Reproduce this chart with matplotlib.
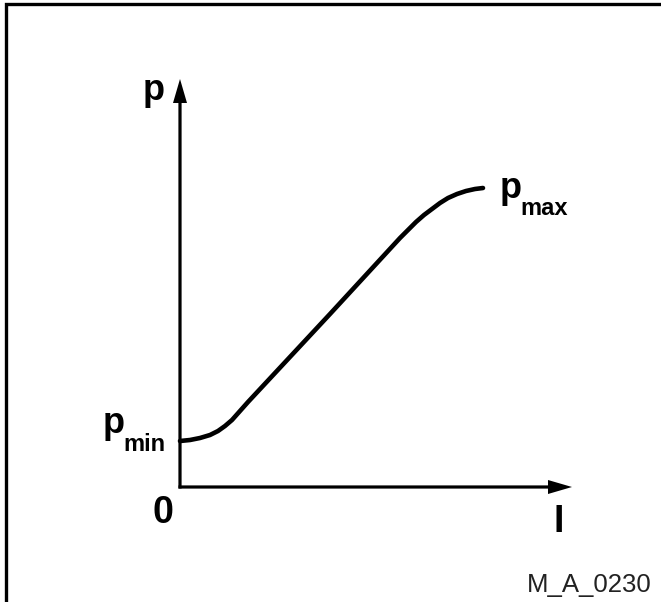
import matplotlib
matplotlib.use("Agg")
import matplotlib.pyplot as plt
from matplotlib.lines import Line2D

plt.rcParams['font.family'] = ['Liberation Sans', 'DejaVu Sans']

# characteristic curve p over I (arbitrary units)
current = [0, 10, 20, 30, 38, 45, 52, 60, 68, 150, 220, 228, 236, 244, 252,
           260, 268, 277, 286, 295, 303]
pressure = [46, 47, 49, 52, 56, 61, 67, 76, 85, 173, 249, 257, 265, 272, 278,
            284, 289, 293, 296, 298, 299]

x_arrow_len = 392
y_arrow_len = 408

W, H = 661, 602
x0, y0 = 180, 487  # origin in pixels

fig = plt.figure(figsize=(W / 100, H / 100), dpi=100)
ax = fig.add_axes([0, 0, 1, 1])
ax.set_xlim(-x0, W - x0)
ax.set_ylim(-(H - y0), y0)
ax.axis('off')

# frame (left and top only, like the source)
fig.add_artist(Line2D([5.5 / W, 5.5 / W, 1], [0, 1 - 3.5 / H, 1 - 3.5 / H],
                      transform=fig.transFigure, color='k', lw=2.4,
                      solid_joinstyle='miter'))

# axes with arrows
ax.arrow(0, -1.5, 0, y_arrow_len + 1.5, width=3.2, head_width=14, head_length=24,
         length_includes_head=True, fc='k', ec='none')
ax.arrow(-1.5, 0, x_arrow_len + 1.5, 0, width=3.2, head_width=14, head_length=24,
         length_includes_head=True, fc='k', ec='none')

ax.plot(current, pressure, color='k', lw=3.3, solid_capstyle='round',
        solid_joinstyle='round')

bold = dict(fontweight='bold', color='k', ha='left', va='baseline')
ax.text(143 - x0, y0 - 100, 'p', fontsize=26, **bold)
ax.text(103 - x0, y0 - 433, 'p', fontsize=26, **bold)
ax.text(123 - x0, y0 - 451, 'min', fontsize=17, **bold)
ax.text(500 - x0, y0 - 198, 'p', fontsize=26, **bold)
ax.text(520 - x0, y0 - 215, 'max', fontsize=17, **bold)
ax.text(152 - x0, y0 - 523, '0', fontsize=27, **bold)
ax.text(553 - x0, y0 - 532, 'I', fontsize=27, **bold)
ax.text(527 - x0, y0 - 592, 'M_A_0230', fontsize=18.5, color='#222222',
        ha='left', va='baseline')

fig.savefig('out.png', dpi=100)
